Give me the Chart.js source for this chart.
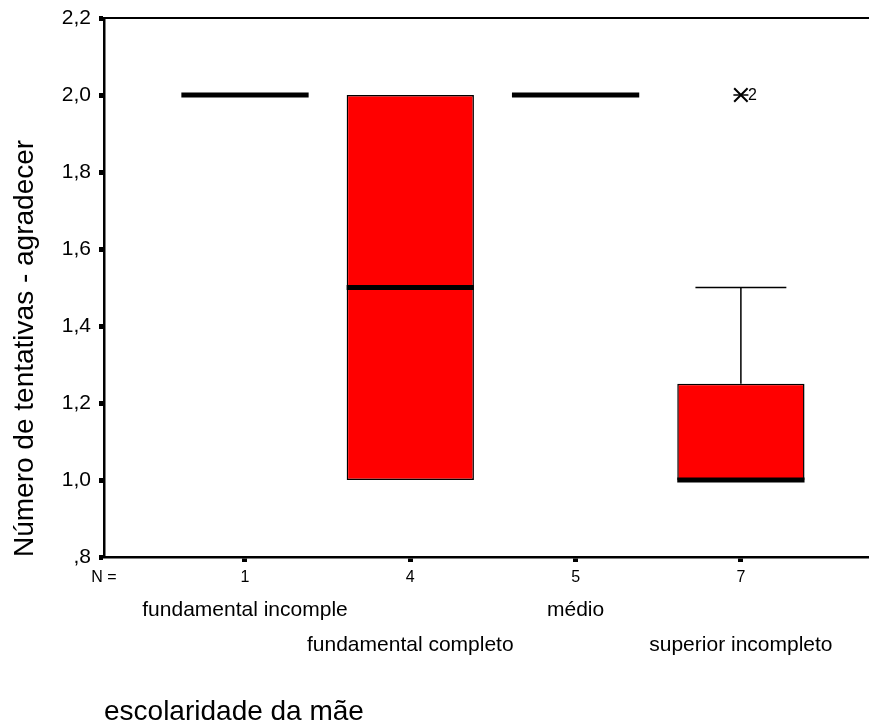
<!DOCTYPE html>
<html><head><meta charset="utf-8">
<script src="https://cdn.jsdelivr.net/npm/chart.js@4.4.0/dist/chart.umd.min.js"></script>
<style>html,body{margin:0;padding:0;background:#fff;} canvas{display:block;}</style>
</head><body>
<canvas id="c" width="869" height="726"></canvas>
<script>
const categories = ['fundamental incomple', 'fundamental completo', 'médio', 'superior incompleto'];
const nCounts = [1, 4, 5, 7];
const minValues = [2.0, 1.0, 2.0, 1.0];
const q1Values = [2.0, 1.0, 2.0, 1.0];
const medianValues = [2.0, 1.5, 2.0, 1.0];
const q3Values = [2.0, 2.0, 2.0, 1.25];
const maxValues = [2.0, 2.0, 2.0, 1.5];
const outlierCategory = [4];
const outlierValues = [2.0];
const outlierLabels = ['2'];
const yTickValues = [0.8, 1.0, 1.2, 1.4, 1.6, 1.8, 2.0, 2.2];
const yTickLabels = [',8', '1,0', '1,2', '1,4', '1,6', '1,8', '2,0', '2,2'];
const nLabel = 'N =';
const xTitle = 'escolaridade da mãe';
const yTitle = 'Número de tentativas - agradecer';

const X_MIN = 0.147, X_MAX = 4.775;
const BOX_HALF = 0.385, CAP_HALF = 0.275;
const FONT = '"Liberation Sans", Arial, sans-serif';
Chart.defaults.font.family = FONT;
Chart.defaults.color = '#000';

const boxExtras = {
  id: 'boxExtras',
  afterDatasetsDraw(chart) {
    const {ctx, chartArea, scales} = chart;
    const x = scales.x, y = scales.y;
    ctx.save();
    ctx.strokeStyle = '#000';
    ctx.lineWidth = 2;
    ctx.beginPath();
    ctx.moveTo(chartArea.left, chartArea.top);
    ctx.lineTo(chartArea.right, chartArea.top);
    ctx.stroke();
    categories.forEach((c, i) => {
      const cx = i + 1;
      const xc = x.getPixelForValue(cx);
      ctx.lineWidth = 1.5;
      ctx.lineCap = 'butt';
      if (maxValues[i] > q3Values[i]) {
        const yt = y.getPixelForValue(maxValues[i]);
        ctx.beginPath();
        ctx.moveTo(xc, y.getPixelForValue(q3Values[i]));
        ctx.lineTo(xc, yt);
        ctx.moveTo(x.getPixelForValue(cx - CAP_HALF), yt);
        ctx.lineTo(x.getPixelForValue(cx + CAP_HALF), yt);
        ctx.stroke();
      }
      if (minValues[i] < q1Values[i]) {
        const yb = y.getPixelForValue(minValues[i]);
        ctx.beginPath();
        ctx.moveTo(xc, y.getPixelForValue(q1Values[i]));
        ctx.lineTo(xc, yb);
        ctx.moveTo(x.getPixelForValue(cx - CAP_HALF), yb);
        ctx.lineTo(x.getPixelForValue(cx + CAP_HALF), yb);
        ctx.stroke();
      }
      ctx.lineWidth = 5;
      const ym = y.getPixelForValue(medianValues[i]);
      ctx.beginPath();
      ctx.moveTo(x.getPixelForValue(cx - BOX_HALF), ym);
      ctx.lineTo(x.getPixelForValue(cx + BOX_HALF), ym);
      ctx.stroke();
    });
    ctx.font = '16px ' + FONT;
    ctx.fillStyle = '#000';
    ctx.textBaseline = 'middle';
    ctx.textAlign = 'left';
    outlierValues.forEach((v, k) => {
      ctx.fillText(outlierLabels[k], x.getPixelForValue(outlierCategory[k]) + 7, y.getPixelForValue(v) + 1);
    });
    ctx.restore();
  }
};

const outlierData = outlierValues.map((v, k) => ({x: outlierCategory[k], y: v}));

new Chart(document.getElementById('c'), {
  type: 'bar',
  data: {
    datasets: [
      {
        type: 'bar',
        data: categories.map((c, i) => ({x: i + 1, y: [q1Values[i], q3Values[i]]})),
        backgroundColor: '#ff0000',
        borderColor: '#000',
        borderWidth: 1.5,
        borderSkipped: false,
        barPercentage: 0.77,
        categoryPercentage: 1,
        xAxisID: 'x', yAxisID: 'y'
      },
      {
        type: 'scatter',
        data: outlierData,
        pointStyle: 'crossRot', radius: 9.5, borderWidth: 2,
        borderColor: '#000', backgroundColor: '#000',
        xAxisID: 'x', yAxisID: 'y'
      },
      {
        type: 'scatter',
        data: outlierData,
        pointStyle: 'line', radius: 7.5, borderWidth: 1.5,
        borderColor: '#000', backgroundColor: '#000',
        xAxisID: 'x', yAxisID: 'y'
      }
    ]
  },
  options: {
    responsive: false,
    animation: false,
    events: [],
    layout: {autoPadding: false, padding: {top: 18, left: 0, right: 0, bottom: 0}},
    plugins: {legend: {display: false}, tooltip: {enabled: false}, title: {display: false}},
    scales: {
      xN: {
        type: 'linear', position: 'bottom', weight: 0, min: X_MIN, max: X_MAX, offset: false,
        afterBuildTicks: s => { s.ticks = [{value: X_MIN}].concat(nCounts.map((n, i) => ({value: i + 1}))); },
        afterFit: s => { s.height = 29; s.paddingLeft = 0; s.paddingRight = 0; },
        ticks: {
          callback: (v, i) => i === 0 ? nLabel : String(nCounts[i - 1]),
          font: {size: 16}, color: '#000', padding: 6, autoSkip: false, maxRotation: 0, minRotation: 0
        },
        grid: {
          offset: false, drawOnChartArea: false, drawTicks: true, tickLength: 5, tickWidth: 5,
          tickColor: c => c.index === 0 ? 'rgba(0,0,0,0)' : '#000'
        },
        border: {display: true, color: '#000', width: 2.5}
      },
      x: {
        type: 'linear', position: 'bottom', weight: 1, min: X_MIN, max: X_MAX, offset: false,
        afterBuildTicks: s => { s.ticks = categories.map((c, i) => ({value: i + 1})); },
        afterFit: s => { s.height = 140; s.paddingLeft = 0; s.paddingRight = 0; },
        ticks: {
          callback: (v, i) => i % 2 === 0 ? [categories[i]] : ['', categories[i]],
          font: {size: 21, lineHeight: 35 / 21}, color: '#000', padding: 7, autoSkip: false, maxRotation: 0, minRotation: 0
        },
        grid: {display: false, drawTicks: false, offset: false},
        border: {display: false},
        title: {display: true, text: xTitle, align: 'start', color: '#000', font: {size: 28}, padding: {top: 30, bottom: -3}}
      },
      y: {
        type: 'linear', position: 'left', min: 0.8, max: 2.2,
        afterBuildTicks: s => { s.ticks = yTickValues.map(v => ({value: v})); },
        afterFit: s => { s.width = 104; s.paddingTop = 0; s.paddingBottom = 0; },
        ticks: {callback: (v, i) => yTickLabels[i], font: {size: 21}, color: '#000', padding: 8},
        grid: {drawOnChartArea: false, drawTicks: true, tickLength: 5, tickWidth: 5, tickColor: '#000'},
        border: {display: true, color: '#000', width: 2.5},
        title: {display: true, text: yTitle, align: 'start', color: '#000', font: {size: 28}, padding: {top: 8, bottom: 0}}
      }
    }
  },
  plugins: [boxExtras]
});
</script>
</body></html>
